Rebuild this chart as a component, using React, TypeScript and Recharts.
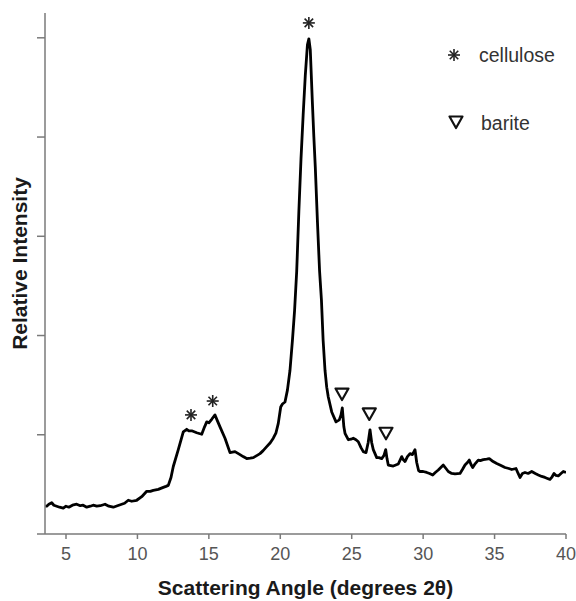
import { ComposedChart, Label, Line, Scatter, XAxis, YAxis } from "recharts";

// diffractogram (2θ in degrees, intensity in tick units)
const angle = [
  3.55, 3.65, 3.8, 4.0, 4.15, 4.35, 4.55, 4.81, 5.0, 5.2, 5.45, 5.75, 6.0, 6.2, 6.45, 6.7, 6.9, 7.15, 7.4, 7.73,
  8.0, 8.31, 8.6, 8.9, 9.1, 9.36, 9.6, 9.95, 10.3, 10.65, 10.9, 11.11, 11.46, 11.81, 12.0, 12.16, 12.35, 12.51, 12.86, 13.21,
  13.45, 13.6, 13.8, 14.15, 14.5, 14.7, 14.85, 15.0, 15.2, 15.43, 15.6, 15.78, 16.13, 16.48, 16.83, 17.18, 17.4, 17.65, 17.9, 18.11,
  18.35, 18.58, 18.8, 19.05, 19.3, 19.51, 19.7, 19.86, 20.03, 20.15, 20.33, 20.5, 20.68, 20.85, 21.0, 21.15, 21.3, 21.45, 21.6, 21.75,
  21.9, 22.0, 22.1, 22.24, 22.35, 22.45, 22.6, 22.75, 22.88, 23.0, 23.13, 23.25, 23.36, 23.6, 23.9, 24.13, 24.25, 24.34, 24.45, 24.53,
  24.76, 24.95, 25.11, 25.3, 25.46, 25.65, 25.81, 26.0, 26.15, 26.28, 26.4, 26.51, 26.75, 26.9, 27.1, 27.25, 27.38, 27.47, 27.56, 27.91,
  28.26, 28.5, 28.6, 28.73, 28.9, 29.08, 29.25, 29.43, 29.55, 29.68, 29.78, 30.0, 30.25, 30.45, 30.67, 30.85, 31.06, 31.41, 31.6, 31.76,
  32.0, 32.23, 32.58, 32.75, 32.93, 33.1, 33.23, 33.35, 33.47, 33.65, 33.86, 34.0, 34.21, 34.45, 34.63, 34.9, 35.15, 35.45, 35.73, 36.0,
  36.2, 36.5, 36.65, 36.78, 36.95, 37.13, 37.35, 37.6, 37.85, 38.06, 38.3, 38.53, 38.7, 38.88, 39.0, 39.16, 39.3, 39.46, 39.65, 39.81,
  40.0
];
const intensity = [
  0.28, 0.28, 0.3, 0.315, 0.29, 0.28, 0.27, 0.26, 0.28, 0.27, 0.29, 0.3, 0.285, 0.29, 0.27, 0.28, 0.29, 0.28, 0.285, 0.3,
  0.28, 0.27, 0.285, 0.3, 0.31, 0.34, 0.33, 0.34, 0.376, 0.43, 0.43, 0.44, 0.45, 0.47, 0.48, 0.49, 0.57, 0.68, 0.85, 1.03,
  1.055, 1.04, 1.04, 1.02, 1.005, 1.08, 1.13, 1.12, 1.156, 1.2, 1.14, 1.08, 0.965, 0.82, 0.83, 0.8, 0.78, 0.76, 0.765, 0.77,
  0.79, 0.81, 0.84, 0.88, 0.92, 0.965, 1.02, 1.115, 1.28, 1.31, 1.33, 1.45, 1.65, 1.95, 2.25, 2.65, 3.25, 3.78, 4.22, 4.62,
  4.93, 4.99, 4.88, 4.37, 4.0, 3.7, 3.15, 2.65, 2.36, 1.95, 1.65, 1.48, 1.38, 1.23, 1.13, 1.15, 1.2, 1.27, 1.08, 1.015,
  0.95, 0.955, 0.965, 0.95, 0.93, 0.87, 0.83, 0.82, 0.92, 1.05, 0.92, 0.85, 0.77, 0.77, 0.76, 0.79, 0.85, 0.76, 0.695, 0.685,
  0.705, 0.78, 0.75, 0.73, 0.78, 0.81, 0.8, 0.85, 0.72, 0.64, 0.63, 0.63, 0.62, 0.61, 0.595, 0.62, 0.645, 0.695, 0.66, 0.63,
  0.61, 0.605, 0.61, 0.65, 0.695, 0.72, 0.745, 0.7, 0.67, 0.71, 0.745, 0.74, 0.75, 0.755, 0.76, 0.73, 0.71, 0.69, 0.67, 0.66,
  0.65, 0.66, 0.61, 0.57, 0.61, 0.62, 0.61, 0.63, 0.61, 0.595, 0.58, 0.57, 0.56, 0.55, 0.57, 0.61, 0.59, 0.585, 0.61, 0.63,
  0.62
];

// peak markers
const celluloseAngle = [13.75, 15.27, 22.0];
const celluloseHeight = [1.2, 1.34, 5.15];
const bariteAngle = [24.32, 26.23, 27.4];
const bariteHeight = [1.41, 1.21, 1.015];

const xTicks = [5, 10, 15, 20, 25, 30, 35, 40];
const yTicks = [0, 1, 2, 3, 4, 5];
const legendNames = ["cellulose", "barite"];

const FONT = "'Liberation Sans', Arial, sans-serif";
const AXIS = "#7a7a7a";

const curve = angle.map((x, i) => ({ x, y: intensity[i] }));
const cellulose = celluloseAngle.map((x, i) => ({ x, y: celluloseHeight[i] }));
const barite = bariteAngle.map((x, i) => ({ x, y: bariteHeight[i] }));

const Asterisk = ({ cx, cy }: { cx: number; cy: number }) => {
  const r = 6;
  const d = r * Math.SQRT1_2;
  return (
    <g stroke="#222" strokeWidth={1.6}>
      <line x1={cx - r} y1={cy} x2={cx + r} y2={cy} />
      <line x1={cx} y1={cy - r} x2={cx} y2={cy + r} />
      <line x1={cx - d} y1={cy - d} x2={cx + d} y2={cy + d} />
      <line x1={cx - d} y1={cy + d} x2={cx + d} y2={cy - d} />
    </g>
  );
};

const Triangle = ({ cx, cy }: { cx: number; cy: number }) => (
  <polygon
    points={`${cx - 6.5},${cy - 5.5} ${cx + 6.5},${cy - 5.5} ${cx},${cy + 6}`}
    fill="#fff"
    stroke="#111"
    strokeWidth={2.2}
    strokeLinejoin="round"
  />
);

// legend drawn as an overlay so it does not eat into the plot area
const LegendBox = () => (
  <svg width={130} height={100} style={{ position: "absolute", left: 440, top: 40 }}>
    <Asterisk cx={14} cy={15} />
    <text x={39} y={21.5} fontSize={19.5} fill="#333" fontFamily={FONT}>
      {legendNames[0]}
    </text>
    <Triangle cx={16} cy={82} />
    <text x={41} y={90} fontSize={19.5} fill="#333" fontFamily={FONT}>
      {legendNames[1]}
    </text>
  </svg>
);

export default function App() {
  return (
    <div style={{ position: "absolute", left: 0, top: 0, width: 576, height: 601, background: "#fff" }}>
      <ComposedChart width={576} height={601} data={curve} margin={{ top: 13, right: 10, bottom: 0, left: 0 }}>
        <XAxis
          type="number"
          dataKey="x"
          domain={[3.53, 40]}
          ticks={xTicks}
          allowDataOverflow
          height={67}
          stroke={AXIS}
          strokeWidth={1.5}
          tickSize={5}
          tickMargin={8}
          tick={{ fill: "#555", fontSize: 18, fontFamily: FONT }}
        >
          <Label
            content={() => (
              <text x={305.5} y={595} textAnchor="middle" fontSize={21} fontWeight="bold" fill="#1a1a1a" fontFamily={FONT}>
                Scattering Angle (degrees 2θ)
              </text>
            )}
          />
        </XAxis>
        <YAxis
          type="number"
          domain={[0, 5.25]}
          ticks={yTicks}
          allowDataOverflow
          width={45}
          stroke={AXIS}
          strokeWidth={1.5}
          tickSize={8}
          tickFormatter={() => ""}
        >
          <Label
            content={() => (
              <text
                x={27}
                y={263.5}
                transform="rotate(-90 27 263.5)"
                textAnchor="middle"
                fontSize={21}
                fontWeight="bold"
                fill="#1a1a1a"
                fontFamily={FONT}
              >
                Relative Intensity
              </text>
            )}
          />
        </YAxis>
        <Line
          type="linear"
          dataKey="y"
          stroke="#000"
          strokeWidth={2.8}
          strokeLinejoin="round"
          dot={false}
          activeDot={false}
          isAnimationActive={false}
        />
        <Scatter data={cellulose} dataKey="y" shape={(p: any) => <Asterisk cx={p.cx} cy={p.cy} />} isAnimationActive={false} />
        <Scatter data={barite} dataKey="y" shape={(p: any) => <Triangle cx={p.cx} cy={p.cy} />} isAnimationActive={false} />
      </ComposedChart>
      <LegendBox />
    </div>
  );
}
